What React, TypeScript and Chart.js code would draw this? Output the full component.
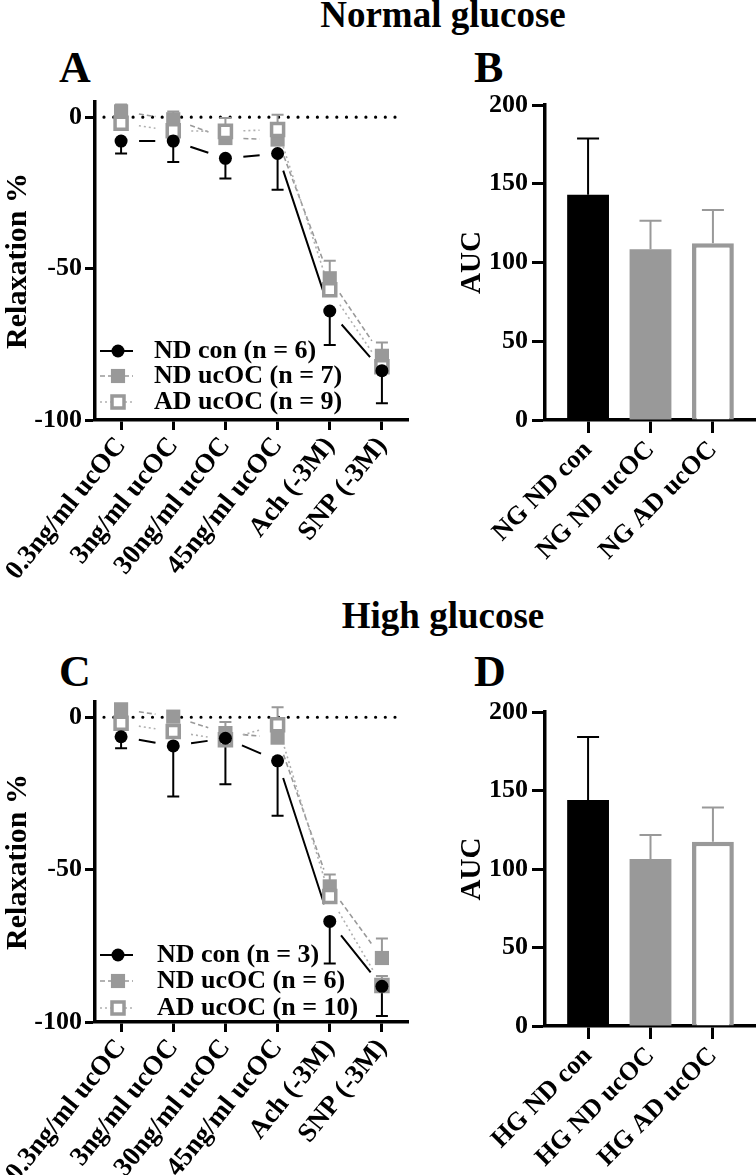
import React, { useEffect, useRef } from 'react';
import { Chart, registerables } from 'chart.js';

Chart.register(...registerables);

const FONT = '"Liberation Serif", "Times New Roman", Times, serif';
const GRAY = '#999999';
const LIGHT = '#b0b0b0';

// ---------------- data ----------------
const doseLabels = ['0.3ng/ml ucOC', '3ng/ml ucOC', '30ng/ml ucOC', '45ng/ml ucOC', 'Ach (-3M)', 'SNP (-3M)'];
const lineYTicks = [-100, -50, 0];
const barYTicks = [0, 50, 100, 150, 200];

// Normal glucose (panel A)
const ngNdCon = [-7.9, -7.9, -13.6, -12, -64, -83.7];
const ngNdConSem = [4.1, 6.9, 6.7, 12, 11.2, 10.8];
const ngNdUcoc = [1.9, -0.7, -6.9, -7.4, -53.2, -78.8];
const ngNdUcocSem = [2.3, 2.6, 2, 2, 5.8, 4.4];
const ngAdUcoc = [-2, -4.5, -4.7, -4.1, -57, -82.4];
const ngAdUcocSem = [2, 2, 4.4, 4.9, 3, 3];
const ngLegend = ['ND con (n = 6)', 'ND ucOC (n = 7)', 'AD ucOC (n = 9)'];

// High glucose (panel C)
const hgNdCon = [-6.4, -9.4, -6.9, -14.3, -67, -88.3];
const hgNdConSem = [3.8, 16.6, 15.1, 18, 13.8, 9.7];
const hgNdUcoc = [2.6, 0.2, -5.2, -6.7, -55.5, -79];
const hgNdUcocSem = [1.5, 1.5, 3.6, 2, 3.9, 6.4];
const hgAdUcoc = [-2, -4.7, -7.4, -2.5, -58.8, -88];
const hgAdUcocSem = [1.5, 1.5, 2, 5.8, 2.5, 3.1];
const hgLegend = ['ND con (n = 3)', 'ND ucOC (n = 6)', 'AD ucOC (n = 10)'];

// AUC (panels B, D)
const ngAucLabels = ['NG ND con', 'NG ND ucOC', 'NG AD ucOC'];
const ngAuc = [143, 108.4, 112.2];
const ngAucSem = [35.7, 18.1, 21.1];
const hgAucLabels = ['HG ND con', 'HG ND ucOC', 'HG AD ucOC'];
const hgAuc = [144, 106.3, 117.3];
const hgAucSem = [40, 15.4, 21.9];

Chart.defaults.font.family = FONT;
Chart.defaults.color = '#000';

// ---------------- plugins ----------------
const errorBarPlugin = {
  id: 'errorBars',
  beforeDatasetsDraw(chart: any) {
    const { ctx } = chart;
    const yScale = chart.scales.y;
    chart.data.datasets.forEach((ds: any, di: number) => {
      if (!ds.errors) return;
      const meta = chart.getDatasetMeta(di);
      meta.data.forEach((el: any, i: number) => {
        const d = ds.data[i];
        const v = typeof d === 'number' ? d : d.y;
        const x = el.x;
        const y0 = yScale.getPixelForValue(v);
        const y1 = yScale.getPixelForValue(v + ds.errDir * ds.errors[i]);
        const color = Array.isArray(ds.errColor) ? ds.errColor[i] : ds.errColor;
        ctx.save();
        ctx.strokeStyle = color;
        ctx.lineWidth = ds.errWidth;
        ctx.setLineDash([]);
        ctx.beginPath();
        ctx.moveTo(x, y0);
        ctx.lineTo(x, y1);
        ctx.moveTo(x - ds.errCap / 2, y1);
        ctx.lineTo(x + ds.errCap / 2, y1);
        ctx.stroke();
        ctx.restore();
      });
    });
  },
};

const gapLinePlugin = {
  id: 'gapLines',
  beforeDatasetsDraw(chart: any, _a: any, opts: any) {
    const { ctx } = chart;
    const gap = opts && opts.gap ? opts.gap : 18;
    chart.data.datasets.forEach((ds: any, di: number) => {
      if (!ds.lineColor) return;
      const pts = chart.getDatasetMeta(di).data;
      ctx.save();
      ctx.strokeStyle = ds.lineColor;
      ctx.lineWidth = ds.lineWidth;
      ctx.setLineDash(ds.lineDash);
      ctx.beginPath();
      for (let i = 0; i + 1 < pts.length; i++) {
        const a = pts[i];
        const b = pts[i + 1];
        const dx = b.x - a.x;
        const dy = b.y - a.y;
        const len = Math.hypot(dx, dy);
        if (len <= 2 * gap + 2) continue;
        const ux = dx / len;
        const uy = dy / len;
        ctx.moveTo(a.x + ux * gap, a.y + uy * gap);
        ctx.lineTo(b.x - ux * gap, b.y - uy * gap);
      }
      ctx.stroke();
      ctx.restore();
    });
  },
};

const zeroLinePlugin = {
  id: 'zeroLine',
  beforeDatasetsDraw(chart: any, _a: any, opts: any) {
    if (!opts || !opts.enabled) return;
    const { ctx, chartArea } = chart;
    const y = chart.scales.y.getPixelForValue(0);
    ctx.save();
    ctx.strokeStyle = '#000';
    ctx.lineWidth = 3.2;
    ctx.lineCap = 'round';
    ctx.setLineDash([0, 9.7]);
    ctx.beginPath();
    ctx.moveTo(chartArea.left + 9, y);
    ctx.lineTo(chartArea.right - 8, y);
    ctx.stroke();
    ctx.restore();
  },
};

const insideLegendPlugin = {
  id: 'insideLegend',
  afterDatasetsDraw(chart: any, _a: any, opts: any) {
    if (!opts || !opts.labels) return;
    const { ctx, chartArea } = chart;
    const L = chartArea.left;
    chart.data.datasets.forEach((ds: any, i: number) => {
      const y = chartArea.bottom - opts.offsets[i];
      ctx.save();
      ctx.strokeStyle = ds.lineColor;
      ctx.lineWidth = ds.lineWidth;
      ctx.setLineDash(ds.lineDash);
      ctx.beginPath();
      ctx.moveTo(L + opts.lineStart, y);
      ctx.lineTo(L + opts.lineEnd, y);
      ctx.stroke();
      ctx.setLineDash([]);
      const mx = L + opts.markerX;
      if (ds.pointStyle === 'circle') {
        ctx.fillStyle = ds.pointBackgroundColor;
        ctx.beginPath();
        ctx.arc(mx, y, ds.pointRadius, 0, Math.PI * 2);
        ctx.fill();
      } else {
        const h = ds.pointRadius * Math.SQRT1_2;
        ctx.fillStyle = ds.pointBackgroundColor;
        ctx.fillRect(mx - h, y - h, 2 * h, 2 * h);
        if (ds.pointBorderWidth) {
          ctx.strokeStyle = ds.pointBorderColor;
          ctx.lineWidth = ds.pointBorderWidth;
          ctx.strokeRect(mx - h, y - h, 2 * h, 2 * h);
        }
      }
      ctx.fillStyle = '#000';
      ctx.font = `bold ${opts.fontSize}px ${FONT}`;
      ctx.textBaseline = 'middle';
      ctx.textAlign = 'left';
      ctx.fillText(opts.labels[i], L + opts.textX, y);
      ctx.restore();
    });
  },
};

const tickFont = { family: FONT, size: 26, weight: 'bold' as const };
const doseTickFont = { family: FONT, size: 27, weight: 'bold' as const };

// ---------------- configs ----------------
function lineConfig(
  series: number[][],
  sems: number[][],
  legend: string[],
  legendOffsets: number[],
  padTop: number,
  xHeight: number,
  textX: number
): any {
  const styles = [
    { pointStyle: 'circle', pointRadius: 6.5, pointBackgroundColor: '#000', pointBorderColor: '#000', pointBorderWidth: 0, lineColor: '#000', lineDash: [], lineWidth: 2, errColor: '#000', errDir: -1, order: 0 },
    { pointStyle: 'rect', pointRadius: 10, pointBackgroundColor: GRAY, pointBorderColor: GRAY, pointBorderWidth: 0, lineColor: GRAY, lineDash: [5, 3], lineWidth: 1.6, errColor: GRAY, errDir: 1, order: 2 },
    { pointStyle: 'rect', pointRadius: 8.5, pointBackgroundColor: '#fff', pointBorderColor: GRAY, pointBorderWidth: 3.5, lineColor: LIGHT, lineDash: [2, 3], lineWidth: 1.6, errColor: GRAY, errDir: 1, order: 1 },
  ];
  return {
    type: 'line',
    data: {
      labels: doseLabels,
      datasets: series.map((vals, i) => ({
        label: legend[i],
        data: vals,
        showLine: false,
        errors: sems[i],
        errWidth: 2,
        errCap: 12,
        ...styles[i],
      })),
    },
    options: {
      animation: false,
      responsive: false,
      devicePixelRatio: 1,
      layout: { padding: { top: padTop, right: 5, left: 0, bottom: 0 } },
      plugins: {
        legend: { display: false },
        tooltip: { enabled: false },
        zeroLine: { enabled: true },
        gapLines: { gap: 18 },
        insideLegend: { labels: legend, offsets: legendOffsets, lineStart: 5, lineEnd: 38, markerX: 23, textX, fontSize: 26 },
      },
      scales: {
        x: {
          type: 'category',
          offset: true,
          border: { display: true, color: '#000', width: 3.5 },
          grid: { display: true, drawOnChartArea: false, drawTicks: true, tickLength: 10, tickWidth: 3, tickColor: '#000', offset: false },
          ticks: { autoSkip: false, maxRotation: 51, minRotation: 51, padding: 1, color: '#000', font: doseTickFont },
          afterFit: (s: any) => { s.height = xHeight; s.paddingLeft = 0; s.paddingRight = 0; },
        },
        y: {
          type: 'linear',
          min: -100,
          max: 5,
          afterBuildTicks: (s: any) => { s.ticks = lineYTicks.map((v) => ({ value: v })); },
          border: { display: true, color: '#000', width: 3.5 },
          grid: { display: true, drawOnChartArea: false, drawTicks: true, tickLength: 10, tickWidth: 3, tickColor: '#000' },
          ticks: { padding: 3, color: '#000', font: tickFont, callback: (v: any) => String(v) },
          title: { display: true, text: 'Relaxation %', color: '#000', font: { family: FONT, size: 30, weight: 'bold' }, padding: { top: 0, bottom: 0 } },
          afterFit: (s: any) => { s.width = 95; s.paddingTop = 0; s.paddingBottom = 0; },
        },
      },
    },
    plugins: [zeroLinePlugin, gapLinePlugin, errorBarPlugin, insideLegendPlugin],
  };
}

function barConfig(labels: string[], values: number[], sems: number[], padTop: number, xHeight: number): any {
  return {
    type: 'bar',
    data: {
      datasets: [
        {
          data: values.map((v, i) => ({ x: i, y: v })),
          backgroundColor: ['#000', GRAY, '#fff'],
          borderColor: ['#000', GRAY, GRAY],
          borderWidth: [0, 0, 4.5],
          barPercentage: 0.67,
          categoryPercentage: 1,
          errors: sems,
          errDir: 1,
          errColor: ['#000', GRAY, GRAY],
          errWidth: 2,
          errCap: 22,
        },
      ],
    },
    options: {
      animation: false,
      responsive: false,
      devicePixelRatio: 1,
      layout: { padding: { top: padTop, right: 0, left: 0, bottom: 0 } },
      plugins: { legend: { display: false }, tooltip: { enabled: false } },
      scales: {
        x: {
          type: 'linear',
          min: -0.69,
          max: 2.69,
          offset: false,
          afterBuildTicks: (s: any) => { s.ticks = labels.map((_, i) => ({ value: i })); },
          border: { display: true, color: '#000', width: 3.5 },
          grid: { display: true, drawOnChartArea: false, drawTicks: true, tickLength: 13, tickWidth: 3, tickColor: '#000', offset: false },
          ticks: { autoSkip: false, maxRotation: 45, minRotation: 45, padding: 2, color: '#000', font: tickFont, callback: (v: any) => labels[v] },
          afterFit: (s: any) => { s.height = xHeight; s.paddingLeft = 0; s.paddingRight = 0; },
        },
        y: {
          type: 'linear',
          min: 0,
          max: 200,
          afterBuildTicks: (s: any) => { s.ticks = barYTicks.map((v) => ({ value: v })); },
          border: { display: true, color: '#000', width: 3.5 },
          grid: { display: true, drawOnChartArea: false, drawTicks: true, tickLength: 13, tickWidth: 3, tickColor: '#000' },
          ticks: { padding: 4, color: '#000', font: tickFont, callback: (v: any) => String(v) },
          title: { display: true, text: 'AUC', color: '#000', font: { family: FONT, size: 29, weight: 'bold' }, padding: { top: 35.5, bottom: 0 } },
          afterFit: (s: any) => { s.width = 125; s.paddingTop = 0; s.paddingBottom = 0; },
        },
      },
    },
    plugins: [errorBarPlugin],
  };
}

// ---------------- components ----------------
function ChartBox(props: { make: () => any; left: number; top: number; width: number; height: number }) {
  const ref = useRef<HTMLCanvasElement>(null);
  useEffect(() => {
    const chart = new Chart(ref.current as HTMLCanvasElement, props.make());
    return () => chart.destroy();
  }, []);
  return (
    <canvas
      ref={ref}
      width={props.width}
      height={props.height}
      style={{ position: 'absolute', left: props.left, top: props.top, width: props.width, height: props.height }}
    />
  );
}

function Text(props: { children: string; left: number; top: number; size: number; center?: boolean }) {
  return (
    <div
      style={{
        position: 'absolute',
        left: props.left,
        top: props.top,
        fontFamily: FONT,
        fontWeight: 'bold',
        fontSize: props.size,
        lineHeight: 1,
        whiteSpace: 'nowrap',
        color: '#000',
        transform: props.center ? 'translateX(-50%)' : undefined,
      }}
    >
      {props.children}
    </div>
  );
}

export default function App() {
  return (
    <div style={{ position: 'absolute', left: 0, top: 0, width: 756, height: 1175, background: '#fff', overflow: 'hidden' }}>
      <Text left={443} top={-4} size={37} center>Normal glucose</Text>
      <Text left={443} top={597} size={37} center>High glucose</Text>
      <Text left={59} top={46} size={44}>A</Text>
      <Text left={474} top={46} size={44}>B</Text>
      <Text left={59} top={650} size={44}>C</Text>
      <Text left={474} top={650} size={44}>D</Text>
      <ChartBox
        left={0}
        top={90}
        width={420}
        height={520}
        make={() => lineConfig([ngNdCon, ngNdUcoc, ngAdUcoc], [ngNdConSem, ngNdUcocSem, ngAdUcocSem], ngLegend, [69, 44, 18], 8, 190, 59)}
      />
      <ChartBox left={420} top={90} width={336} height={490} make={() => barConfig(ngAucLabels, ngAuc, ngAucSem, 15, 160)} />
      <ChartBox
        left={0}
        top={690}
        width={420}
        height={485}
        make={() => lineConfig([hgNdCon, hgNdUcoc, hgAdUcoc], [hgNdConSem, hgNdUcocSem, hgAdUcocSem], hgLegend, [67, 41, 14], 12, 153, 62)}
      />
      <ChartBox left={420} top={690} width={336} height={485} make={() => barConfig(hgAucLabels, hgAuc, hgAucSem, 22, 149)} />
    </div>
  );
}
